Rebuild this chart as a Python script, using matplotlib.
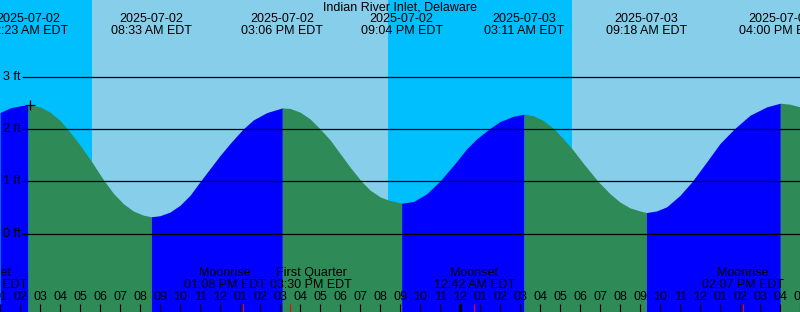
import math
import matplotlib
matplotlib.use("Agg")
import matplotlib.pyplot as plt
import matplotlib.transforms as mtransforms
import pandas as pd

plt.rcParams["font.family"] = ["Liberation Sans", "DejaVu Sans"]

# ---------------- data ----------------
TITLE = "Indian River Inlet, Delaware"
BASE = "2025-07-02 00:00"
view_start = "2025-07-02 00:59"
view_end = "2025-07-03 16:59"

extreme_times = ["2025-07-02 02:23", "2025-07-02 08:33", "2025-07-02 15:06",
                 "2025-07-02 21:04", "2025-07-03 03:11", "2025-07-03 09:18",
                 "2025-07-03 16:00"]
extreme_ft = [2.46, 0.32, 2.40, 0.58, 2.28, 0.40, 2.49]

# tide level (hours after 2025-07-02 00:00, feet)
curve_hours = [0.985, 1.485, 1.985,
               2.985, 3.485, 3.985, 4.35, 4.985, 5.57, 6.15, 6.65, 7.15, 7.65, 8.15,
               8.985, 9.485, 9.985, 10.485, 10.985, 11.485, 11.985, 12.485, 13.12, 13.65, 14.32,
               15.485, 15.985, 16.485, 16.985, 17.485, 17.985, 18.485, 19.07, 19.485, 19.985, 20.4,
               21.65, 22.32, 22.95, 23.65, 24.32, 24.82, 25.45, 25.985, 26.65,
               27.65, 28.15, 28.65, 29.15, 29.65, 30.15, 30.9, 31.485, 31.985, 32.485, 32.985,
               33.8, 34.32, 34.985, 35.585, 36.32, 36.985, 37.7, 38.485, 39.32,
               40.485, 40.985]
curve_ft = [2.31, 2.40, 2.44,
            2.42, 2.32, 2.16, 2.00, 1.69, 1.37, 1.03, 0.77, 0.57, 0.43, 0.35,
            0.34, 0.41, 0.54, 0.73, 0.99, 1.24, 1.49, 1.72, 1.99, 2.17, 2.31,
            2.39, 2.32, 2.19, 2.00, 1.79, 1.53, 1.27, 0.99, 0.83, 0.70, 0.64,
            0.61, 0.76, 0.99, 1.30, 1.62, 1.81, 2.00, 2.14, 2.24,
            2.25, 2.16, 2.01, 1.81, 1.59, 1.34, 0.99, 0.76, 0.60, 0.49, 0.43,
            0.43, 0.51, 0.73, 0.99, 1.37, 1.72, 2.00, 2.26, 2.42,
            2.47, 2.42]

sun_times = ["2025-07-02 05:35", "2025-07-02 20:24", "2025-07-03 05:35"]  # rise, set, rise

moon_names = ["Moonset", "Moonrise", "First Quarter", "Moonset", "Moonrise"]
moon_times = ["2025-07-02 00:20", "2025-07-02 13:08", "2025-07-02 15:30",
              "2025-07-03 00:42", "2025-07-03 14:07"]

grid_ft = [0, 1, 2, 3]
mark_time = "2025-07-02 02:30"
mark_ft = 2.46

# ---------------- styles ----------------
NIGHT = "#00BFFF"
DAY = "#87CEEB"
FLOOD = "#0000FF"
EBB = "#2E8B57"
FS = 9
W, H = 800, 312
moon_label_shift_px = [0, -18, 21, 0, 0]   # labels pushed apart to avoid overlap

base = pd.Timestamp(BASE)


def hrs(s):
    return (pd.Timestamp(s) - base) / pd.Timedelta(hours=1)


t0, t1 = hrs(view_start), hrs(view_end)
px_per_h = W / (t1 - t0)

fig = plt.figure(figsize=(W / 100, H / 100), dpi=100)
ax = fig.add_axes([0, 0, 1, 1])
ax.set_xlim(t0, t1)
ax.set_ylim(-1.5, 4.462)
ax.axis("off")
tr = mtransforms.blended_transform_factory(ax.transData, ax.transAxes)


def yf(p):
    return 1 - p / H


# day / night background
bounds = [t0] + [hrs(s) for s in sun_times] + [t1]
for i in range(len(bounds) - 1):
    ax.axvspan(bounds[i], bounds[i + 1], color=NIGHT if i % 2 == 0 else DAY,
               lw=0, zorder=0)

# tide curve fill, colour changes at each high / low
ext_h = [hrs(s) for s in extreme_times]
pts = sorted(list(zip(curve_hours, curve_ft)) + list(zip(ext_h, extreme_ft)))
ts = [p[0] for p in pts]
hs = [p[1] for p in pts]
cuts = [0] + [ts.index(e) for e in ext_h] + [len(ts) - 1]
for a, b in zip(cuts[:-1], cuts[1:]):
    col = FLOOD if hs[b] > hs[a] else EBB
    ax.fill_between(ts[a:b + 1], hs[a:b + 1], -1.5, color=col, lw=0, zorder=1)

# grid lines and labels
for g in grid_ft:
    ax.plot([t0 + 22 / px_per_h, t1], [g, g], color="black", lw=0.9, zorder=2,
            solid_capstyle="butt")
    ax.text(t0 + 2.5 / px_per_h, g, f"{g} ft", ha="left", va="center",
            fontsize=FS, zorder=3)

ax.plot([hrs(mark_time)], [mark_ft], marker="+", ms=7, mew=0.9, color="black",
        zorder=3)

# title and extreme labels
ax.text(0.5, yf(7.5), TITLE, transform=ax.transAxes, ha="center", va="center",
        fontsize=FS)
for s in extreme_times:
    ts_ = pd.Timestamp(s)
    x = hrs(s)
    ax.text(x, yf(19.5), ts_.strftime("%Y-%m-%d"), transform=tr, ha="center",
            va="center", fontsize=FS)
    ax.text(x, yf(31.5), ts_.strftime("%I:%M %p EDT"), transform=tr, ha="center",
            va="center", fontsize=FS)

# hour ticks and labels
for h in range(math.floor(t0), math.ceil(t1) + 1):
    mid = (h % 24 == 0)
    ax.vlines(h, 0, 8 / H, transform=tr, color="black", lw=2.2 if mid else 0.8,
              zorder=3)
    ax.text(h, yf(297), f"{(h - 1) % 12 + 1:02d}", transform=tr, ha="center",
            va="center", fontsize=FS, zorder=3)

# moon events
for name, s, dx in zip(moon_names, moon_times, moon_label_shift_px):
    x = hrs(s)
    ax.vlines(x, 0, 8 / H, transform=tr, color="red", lw=0.8, zorder=3)
    xl = x + dx / px_per_h
    ax.text(xl, yf(273), name, transform=tr, ha="center", va="center",
            fontsize=FS, zorder=3)
    ax.text(xl, yf(285), pd.Timestamp(s).strftime("%I:%M %p EDT"), transform=tr,
            ha="center", va="center", fontsize=FS, zorder=3)

fig.savefig("out.png", dpi=100)
